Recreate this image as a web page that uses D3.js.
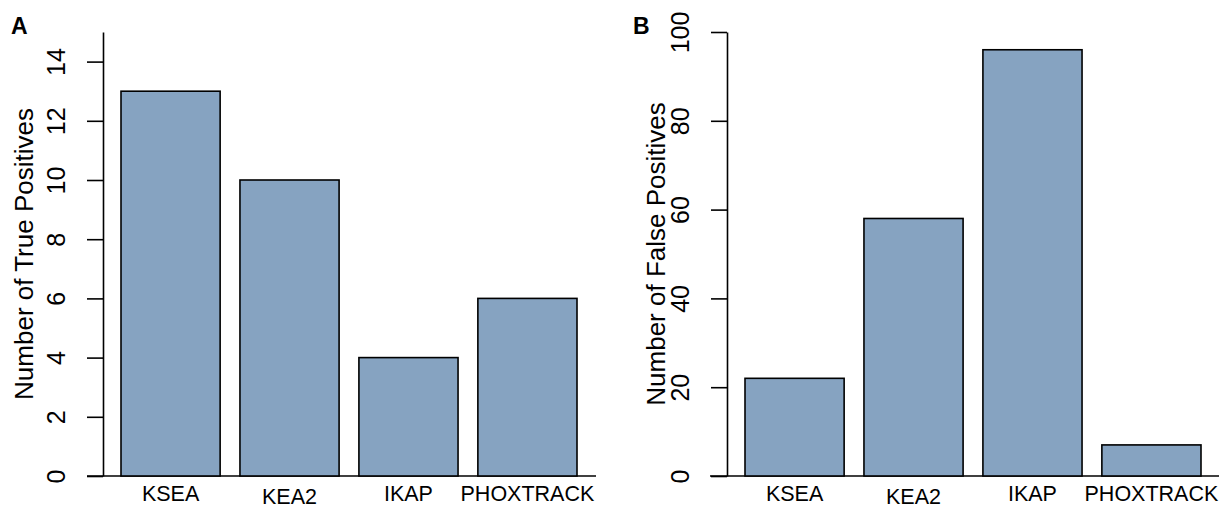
<!DOCTYPE html>
<html>
<head>
<meta charset="utf-8">
<script src="https://cdn.jsdelivr.net/npm/d3@7"></script>
<style>
  html, body { margin: 0; padding: 0; background: #fff; }
  svg { display: block; font-family: "Liberation Sans", Arial, Helvetica, sans-serif; }
</style>
</head>
<body>
<svg id="chart" width="1222" height="508"></svg>
<script>
// ---- data ----
const categories = ["KSEA", "KEA2", "IKAP", "PHOXTRACK"];
const truePositives = [13, 10, 4, 6];
const falsePositives = [22, 58, 96, 7];
const tpTicks = [0, 2, 4, 6, 8, 10, 12, 14];
const fpTicks = [0, 20, 40, 60, 80, 100];
const tpMax = 15;
const fpMax = 100;

const barFill = "#86a3c1";
const svg = d3.select("#chart");

const panels = [
  { letter: "A", values: truePositives, ticks: tpTicks, max: tpMax,
    title: "Number of True Positives", axisX: 103, barL: 121, barR: 577,
    baseL: 87, baseR: 596, titleOff: 70, letterX: 11 },
  { letter: "B", values: falsePositives, ticks: fpTicks, max: fpMax,
    title: "Number of False Positives", axisX: 727, barL: 745, barR: 1201,
    baseL: 710, baseR: 1219, titleOff: 62, letterX: 633 }
];

const plotTop = 32, plotBottom = 476;

panels.forEach(p => {
  const g = svg.append("g");
  const x = d3.scaleBand().domain(categories).range([p.barL, p.barR])
    .paddingInner(1 / 6).paddingOuter(0);
  const y = d3.scaleLinear().domain([0, p.max]).range([plotBottom, plotTop]);

  // baseline
  g.append("line")
    .attr("x1", p.baseL).attr("x2", p.baseR)
    .attr("y1", y(0)).attr("y2", y(0))
    .attr("stroke", "#000").attr("stroke-width", 1.5);

  // bars
  g.selectAll("rect.bar").data(p.values).join("rect")
    .attr("class", "bar")
    .attr("x", (d, i) => x(categories[i]))
    .attr("width", x.bandwidth())
    .attr("y", d => y(d))
    .attr("height", d => y(0) - y(d))
    .attr("fill", barFill)
    .attr("stroke", "#000")
    .attr("stroke-width", 1.6);

  // y axis
  const ax = g.append("g")
    .attr("transform", `translate(${p.axisX},0)`)
    .call(d3.axisLeft(y).tickValues(p.ticks).tickSize(16).tickSizeOuter(0).tickFormat(d3.format("d")));
  ax.select(".domain").attr("stroke-width", 1.6);
  ax.selectAll(".tick line").attr("stroke-width", 1.6);
  ax.selectAll(".tick text")
    .attr("x", 0).attr("dy", 0)
    .attr("text-anchor", "middle")
    .attr("transform", "translate(-38,0) rotate(-90)")
    .attr("font-size", 25)
    .attr("font-family", "Liberation Sans, Arial, sans-serif")
    .attr("fill", "#000");

  // category labels
  g.selectAll("text.cat").data(categories).join("text")
    .attr("class", "cat")
    .attr("x", d => x(d) + x.bandwidth() / 2)
    .attr("y", d => 501 + (/\d/.test(d) ? 2.5 : 0))
    .attr("text-anchor", "middle")
    .attr("font-size", 21.5)
    .attr("fill", "#000")
    .text(d => d);

  // y title
  g.append("text")
    .attr("transform", `translate(${p.axisX - p.titleOff},${(plotTop + plotBottom) / 2}) rotate(-90)`)
    .attr("text-anchor", "middle")
    .attr("font-size", 26)
    .attr("fill", "#000")
    .text(p.title);

  // panel letter
  g.append("text")
    .attr("x", p.letterX).attr("y", 34)
    .attr("font-size", 23)
    .attr("font-weight", "bold")
    .attr("fill", "#000")
    .text(p.letter);
});
</script>
</body>
</html>
